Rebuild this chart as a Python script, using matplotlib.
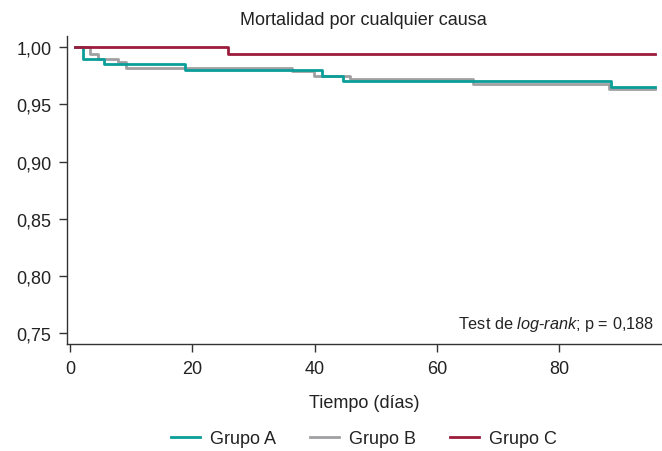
import numpy as np
import matplotlib.pyplot as plt

plt.rcParams['font.family'] = ['Liberation Sans', 'DejaVu Sans']
plt.rcParams['mathtext.fontset'] = 'custom'
plt.rcParams['mathtext.rm'] = 'Liberation Sans'
plt.rcParams['mathtext.it'] = 'Liberation Sans:italic'

# Kaplan-Meier curves (time in days, survival after each step)
t_a = [0.8, 2.1, 5.6, 18.8, 41.1, 44.6, 88.4, 95.6]
s_a = [1.000, 0.990, 0.985, 0.980, 0.975, 0.970, 0.965, 0.965]

t_b = [0.8, 3.3, 4.5, 7.9, 9.2, 36.3, 39.9, 45.8, 65.8, 88.1, 95.6]
s_b = [1.000, 0.994, 0.990, 0.987, 0.982, 0.979, 0.975, 0.972, 0.968, 0.963, 0.963]

t_c = [0.8, 25.8, 95.6]
s_c = [1.000, 0.994, 0.994]

groups = ["Grupo A", "Grupo B", "Grupo C"]
colors = ["#0a9e98", "#a0a0a2", "#9c1c3c"]

yticks = [0.75, 0.80, 0.85, 0.90, 0.95, 1.00]
xticks = [0, 20, 40, 60, 80]

fig = plt.figure(figsize=(6.62, 4.52), dpi=100)
ax = fig.add_axes([0.1008, 0.236, 0.8977, 0.682])

# grey first so teal sits over it where they overlap
ax.step(t_b, s_b, where='post', color=colors[1], lw=2.0, label=groups[1], zorder=2)
ax.step(t_a, s_a, where='post', color=colors[0], lw=2.0, label=groups[0], zorder=3)
ax.step(t_c, s_c, where='post', color=colors[2], lw=2.0, label=groups[2], zorder=4)

ax.set_xlim(-0.55, 96.6)
ax.set_ylim(0.7404, 1.0096)
ax.set_xticks(xticks)
ax.set_yticks(yticks)
ax.set_yticklabels([f"{v:.2f}".replace('.', ',') for v in yticks])
ax.tick_params(labelsize=13, length=6, width=1, color='#333333', colors='#222222')
ax.tick_params(axis='y', pad=5)
ax.tick_params(axis='x', pad=5.5)

for side in ['top', 'right']:
    ax.spines[side].set_visible(False)
for side in ['left', 'bottom']:
    ax.spines[side].set_color('#333333')
    ax.spines[side].set_linewidth(1)

ax.set_title("Mortalidad por cualquier causa", fontsize=13, pad=9, color='#222222')
ax.set_xlabel("Tiempo (días)", fontsize=13, labelpad=12, color='#222222')

ax.text(0.988, 0.068, r"Test de $\mathit{log\text{-}rank}$; p = 0,188", transform=ax.transAxes,
        ha='right', va='center', fontsize=11.7, color='#222222')

handles, labels = ax.get_legend_handles_labels()
order = [1, 0, 2]
ax.legend([handles[i] for i in order], [labels[i] for i in order],
          loc='center', bbox_to_anchor=(0.5, -0.305), ncol=3, frameon=False,
          fontsize=13, handlelength=1.6, columnspacing=1.9, handletextpad=0.55,
          labelcolor='#222222')

fig.savefig("out.png", dpi=100)
